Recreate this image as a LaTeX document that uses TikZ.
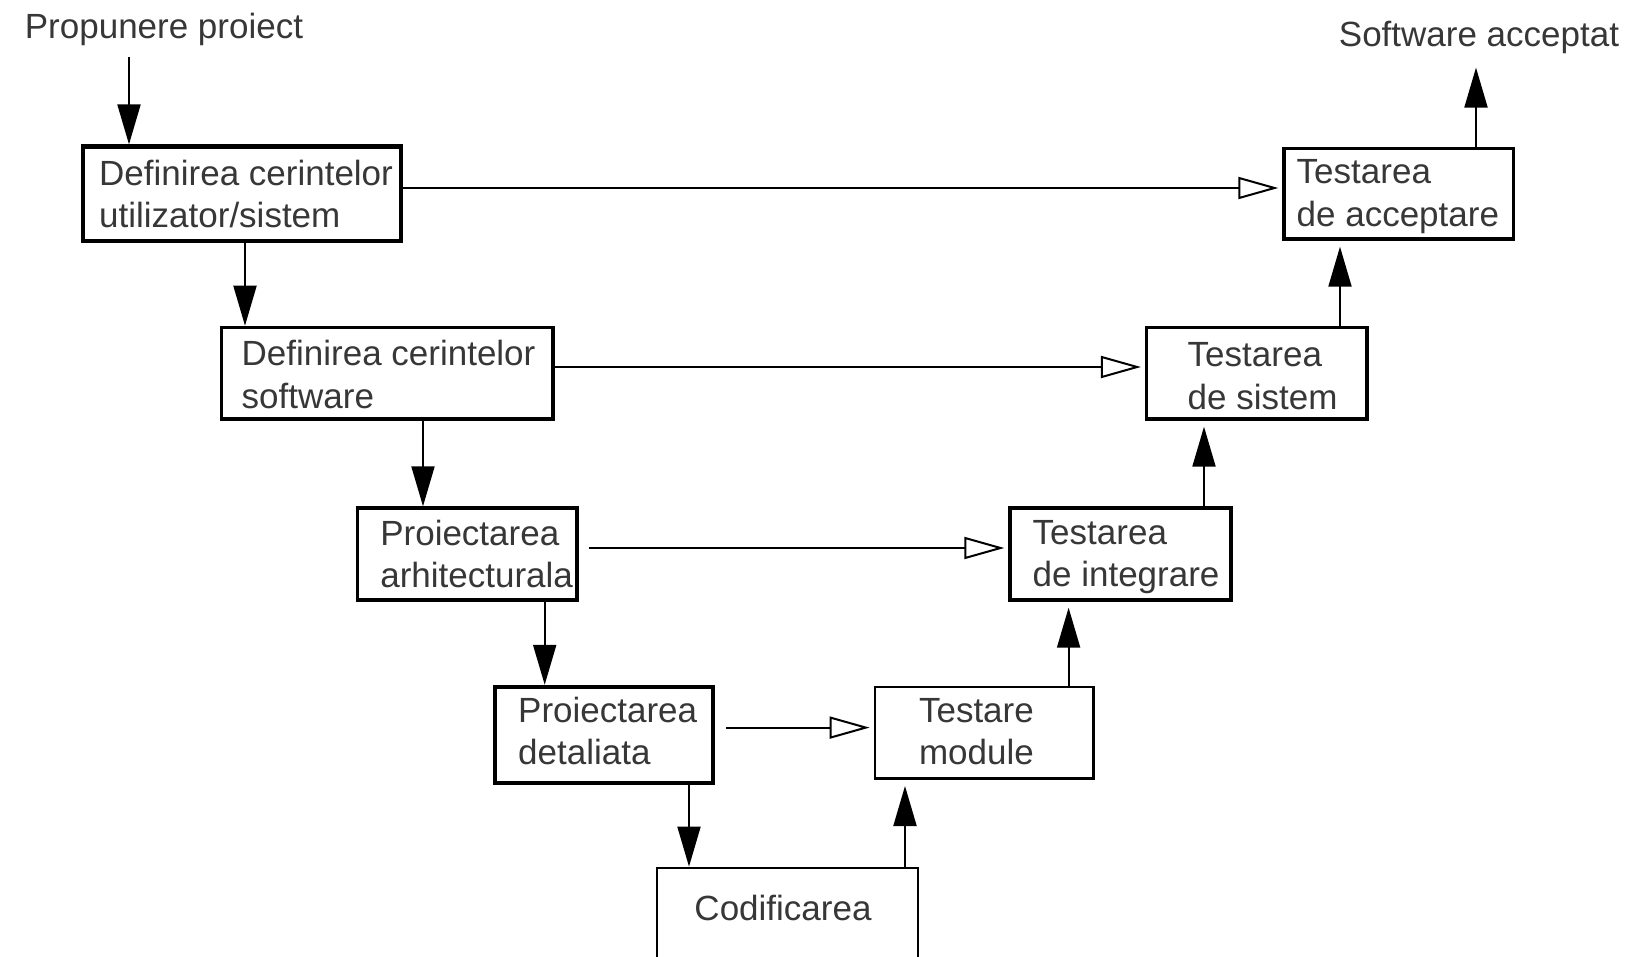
\documentclass[tikz,border=0pt]{standalone}
\usepackage{fontspec}
\setmainfont{Liberation Sans}
\usetikzlibrary{arrows.meta}
\definecolor{txtgray}{RGB}{55,55,55}
\begin{document}
\begin{tikzpicture}[x=0.5pt,y=-0.5pt,
  box/.style={draw=black, line width=1.7pt, rectangle, inner sep=0pt},
  lbl/.style={text=txtgray, font=\fontsize{17.5}{21.3}\selectfont, align=left, inner sep=0pt, anchor=west},
  flow/.style={line width=1pt, -{Triangle[length=20pt,width=11.5pt]}},
  match/.style={line width=1pt, -{Triangle[open,length=20pt,width=11pt,line width=1pt]}, shorten >=2pt}
]
\useasboundingbox (0,0) rectangle (1630,957);

% boxes
\node[box, line width=2.2pt, minimum width=159pt, minimum height=47.2pt] (b1) at (242,193.8) {};
\node[box, minimum width=165.8pt, minimum height=45.8pt] (b2) at (387.2,373.2) {};
\node[box, minimum width=109.7pt, minimum height=46pt] (b3) at (467.3,554) {};
\node[box, line width=2.2pt, minimum width=109pt, minimum height=48pt] (b4) at (604,735) {};
\node[box, line width=1.4pt, minimum width=130.5pt, minimum height=71pt] (b5) at (787.5,939) {};
\node[box, line width=1.4pt, minimum width=109.3pt, minimum height=45.8pt] (b6) at (984.3,732.8) {};
\node[box, minimum width=110.5pt, minimum height=46pt] (b7) at (1120.5,554) {};
\node[box, minimum width=110.2pt, minimum height=45.8pt] (b8) at (1256.8,373.2) {};
\node[box, minimum width=114.75pt, minimum height=45.2pt] (b9) at (1398.75,193.8) {};

% texts
\node[lbl] (t1) at ([xshift=9pt]b1.west) {Definirea cerintelor\\utilizator/sistem};
\node[lbl] (t2) at ([xshift=10.8pt,yshift=-0.5pt]b2.west) {Definirea cerintelor\\software};
\node[lbl] (t3) at ([xshift=12pt]b3.west) {Proiectarea\\arhitecturala};
\node[lbl] (t4) at ([xshift=12.5pt,yshift=2pt]b4.west) {Proiectarea\\detaliata};
\node[lbl, anchor=center] (t5) at ([xshift=-2.25pt,yshift=-20.75pt]b5.north) {Codificarea};
\node[lbl] (t6) at ([xshift=22.5pt,yshift=0.5pt]b6.west) {Testare\\module};
\node[lbl] (t7) at ([xshift=12pt,yshift=-1.5pt]b7.west) {Testarea\\de integrare};
\node[lbl] (t8) at ([xshift=21.2pt,yshift=-1.5pt]b8.west) {Testarea\\de sistem};
\node[lbl] (t9) at ([xshift=7pt,yshift=-1.5pt]b9.west) {Testarea\\de acceptare};

\node[lbl, anchor=center] (in) at (164,29) {Propunere proiect};
\node[lbl, anchor=center] (out) at (1479,37) {Software acceptat};

\coordinate (s0) at (129,57);
\coordinate (e9) at (1476,67.6);

% down flow
\draw[flow] (s0) -- (s0 |- b1.north);
\draw[flow] (b1.south -| 245,0) -- (b2.north -| 245,0);
\draw[flow] (b2.south -| 423,0) -- (b3.north -| 423,0);
\draw[flow] (b3.south -| 544.7,0) -- (b4.north -| 544.7,0);
\draw[flow] (b4.south -| 689,0) -- (b5.north -| 689,0);

% up flow
\draw[flow, shorten >=3pt] (b5.north -| 905,0) -- (b6.south -| 905,0);
\draw[flow, shorten >=3pt] (b6.north -| 1068.6,0) -- (b7.south -| 1068.6,0);
\draw[flow, shorten >=3pt] (b7.north -| 1204,0) -- (b8.south -| 1204,0);
\draw[flow, shorten >=3pt] (b8.north -| 1340,0) -- (b9.south -| 1340,0);
\draw[flow] (b9.north -| e9) -- (e9);

% verification links
\draw[match] (b1.east |- 0,188) -- (b9.west |- 0,188);
\draw[match] (b2.east |- 0,367) -- (b8.west |- 0,367);
\draw[match, shorten <=5pt] (b3.east |- 0,548) -- (b7.west |- 0,548);
\draw[match, shorten <=5.5pt] (b4.east |- 0,727.6) -- (b6.west |- 0,727.6);
\end{tikzpicture}
\end{document}
